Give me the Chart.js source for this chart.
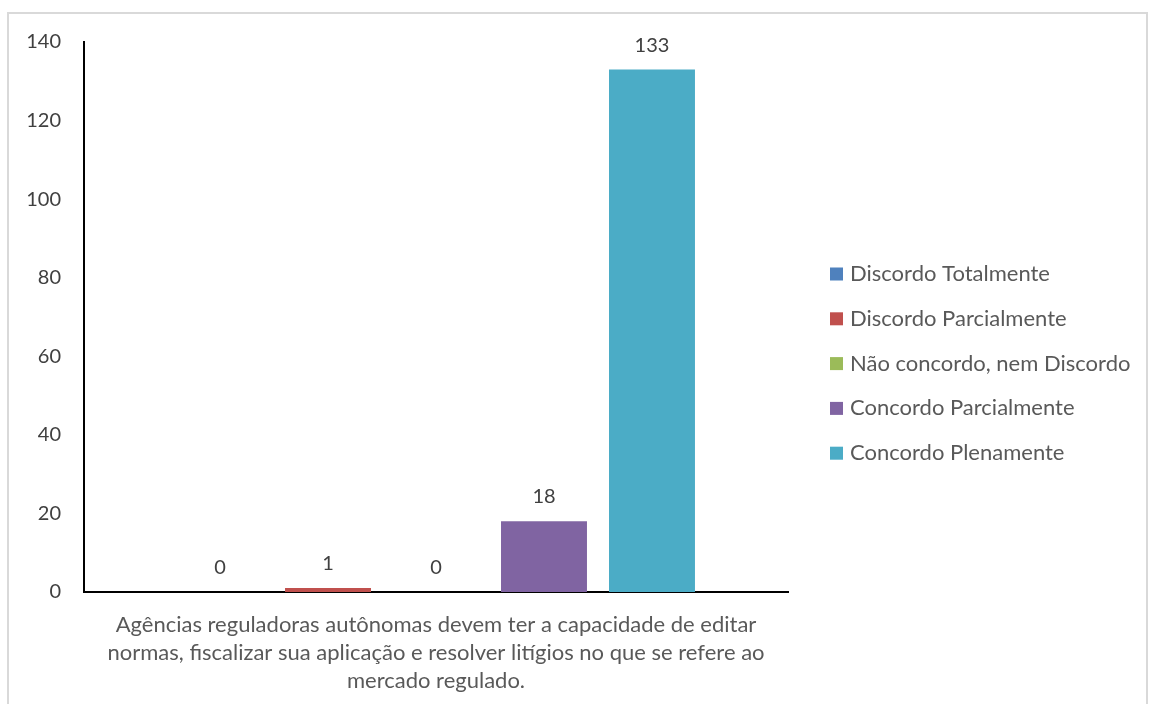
<!DOCTYPE html>
<html>
<head>
<meta charset="utf-8">
<script src="https://cdn.jsdelivr.net/npm/chart.js@4.4.1/dist/chart.umd.min.js"></script>
<style>
  html, body { margin: 0; padding: 0; background: #fff; overflow: hidden; }
  #frame { position: absolute; left: 7px; top: 12px; width: 1141px; height: 720px; border: 2px solid #d9d9d9; box-sizing: border-box; }
  #c { position: absolute; left: 0; top: 0; }
</style>
</head>
<body>
<div id="frame"></div>
<canvas id="c" width="1150" height="704"></canvas>
<script>
const categories = [["Agências reguladoras autônomas devem ter a capacidade de editar", "normas, fiscalizar sua aplicação e resolver litígios no que se refere ao", "mercado regulado."]];
const seriesNames = ["Discordo Totalmente", "Discordo Parcialmente", "Não concordo, nem Discordo", "Concordo Parcialmente", "Concordo Plenamente"];
const seriesValues = [0, 1, 0, 18, 133];
const seriesColors = ["#4F81BD", "#C0504D", "#9BBB59", "#8064A2", "#4BACC6"];
const yTicks = [0, 20, 40, 60, 80, 100, 120, 140];

const FONT = "Lato, 'Open Sans', sans-serif";

const datasets = seriesNames.map((name, i) => ({
  label: name,
  data: [seriesValues[i]],
  backgroundColor: seriesColors[i],
  borderWidth: 0,
  categoryPercentage: 0.767,
  barPercentage: 0.796
}));

const valueLabels = {
  id: 'valueLabels',
  afterDatasetsDraw(chart) {
    const ctx = chart.ctx;
    ctx.save();
    ctx.font = "20px " + FONT;
    ctx.fillStyle = "#404040";
    ctx.textAlign = "center";
    ctx.textBaseline = "alphabetic";
    chart.data.datasets.forEach((ds, i) => {
      const meta = chart.getDatasetMeta(i);
      meta.data.forEach((bar, j) => {
        ctx.fillText(String(ds.data[j]), bar.x, bar.y - 18);
      });
    });
    ctx.restore();
  }
};

const sideLegend = {
  id: 'sideLegend',
  afterDraw(chart) {
    const ctx = chart.ctx;
    ctx.save();
    ctx.font = "22px " + FONT;
    ctx.textBaseline = "middle";
    ctx.textAlign = "left";
    chart.data.datasets.forEach((ds, i) => {
      const cy = 274 + i * 44.8;
      ctx.fillStyle = ds.backgroundColor;
      ctx.fillRect(830, cy - 6.5, 13, 13);
      ctx.fillStyle = "#595959";
      ctx.fillText(ds.label, 850, cy);
    });
    ctx.restore();
  }
};

new Chart(document.getElementById('c'), {
  type: 'bar',
  data: { labels: categories, datasets },
  plugins: [valueLabels, sideLegend],
  options: {
    responsive: false,
    animation: false,
    layout: { padding: { top: 42, left: 0, right: 362, bottom: 0 } },
    plugins: { legend: { display: false }, tooltip: { enabled: false } },
    scales: {
      x: {
        grid: { display: false, drawTicks: false },
        border: { display: true, color: '#000', width: 2 },
        ticks: { color: '#595959', font: { family: FONT, size: 22, lineHeight: 1.27 }, padding: 19, maxRotation: 0, autoSkip: false },
        afterFit(scale) { scale.height = 112; }
      },
      y: {
        min: 0, max: 140,
        afterBuildTicks(scale) { scale.ticks = yTicks.map(v => ({ value: v })); },
        grid: { display: false, drawTicks: false },
        border: { display: true, color: '#000', width: 2 },
        ticks: { color: '#404040', font: { family: FONT, size: 20 }, padding: 23 },
        afterFit(scale) { scale.width = 84; }
      }
    }
  }
});
</script>
</body>
</html>
